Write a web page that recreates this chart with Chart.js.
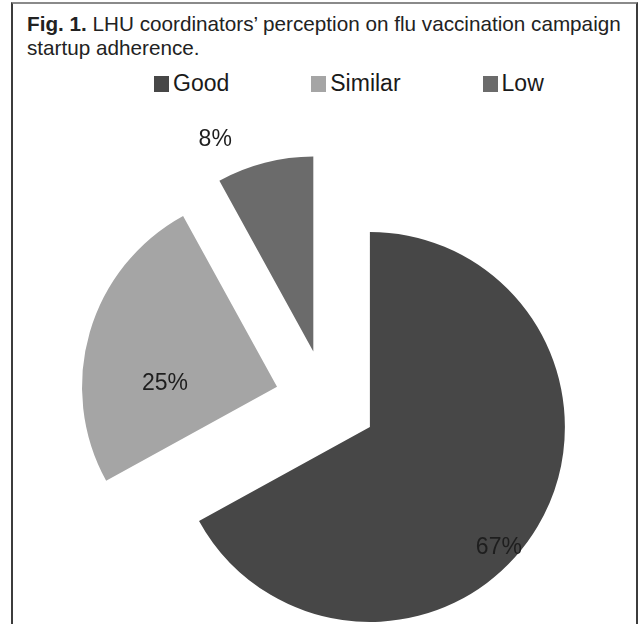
<!DOCTYPE html>
<html lang="en">
<head>
<meta charset="utf-8">
<script src="https://cdn.jsdelivr.net/npm/chart.js"></script>
<style>
  html, body { margin: 0; padding: 0; background: #fff; width: 642px; height: 624px; overflow: hidden; }
  .frame {
    position: absolute; left: 11px; top: 2px; width: 623px; height: 700px;
    border: 2px solid #3c3c3c; border-top-color: #8a8a8a;
  }
  .caption {
    position: absolute; left: 27px; top: 12px; width: 610px;
    font-family: "Liberation Sans", Arial, sans-serif;
    font-size: 20.7px; line-height: 24px; color: #222;
  }
  .caption b { font-weight: bold; }
  .legend {
    position: absolute; top: 70px; left: 154px; display: flex;
    font-family: "Liberation Sans", Arial, sans-serif; font-size: 23px; color: #1a1a1a;
  }
  .legend .item { display: flex; align-items: center; margin-right: 82px; }
  .legend .box { width: 15px; height: 16px; margin-right: 4px; }
  #chart { position: absolute; left: 0; top: 0; }
</style>
</head>
<body>
  <div class="frame"></div>
  <div class="caption"><b>Fig. 1.</b> LHU coordinators’ perception on flu vaccination campaign startup adherence.</div>
  <div class="legend" id="legend"></div>
  <canvas id="chart" width="642" height="624"></canvas>

<script>
  // dados do gráfico
  var categorias = ['Good', 'Similar', 'Low'];
  var valores = [67, 25, 8];
  var cores = ['#474747', '#a5a5a5', '#6b6b6b'];

  // legenda em html (no original ela não fica centrada na pizza)
  var legenda = document.getElementById('legend');
  categorias.forEach(function (nome, i) {
    var item = document.createElement('div');
    item.className = 'item';
    var box = document.createElement('span');
    box.className = 'box';
    box.style.background = cores[i];
    var txt = document.createElement('span');
    txt.textContent = nome;
    item.appendChild(box);
    item.appendChild(txt);
    legenda.appendChild(item);
  });

  // pizza "explodida": cada fatia sai do centro na direção da sua bissetriz
  var explodir = {
    id: 'explodir',
    afterDatasetUpdate: function (chart, args, opts) {
      args.meta.data.forEach(function (arc) {
        var meio = (arc.startAngle + arc.endAngle) / 2;
        arc.x += Math.cos(meio) * opts.distancia;
        arc.y += Math.sin(meio) * opts.distancia;
      });
    }
  };

  // rótulos de porcentagem
  var rotulos = {
    id: 'rotulos',
    afterDatasetsDraw: function (chart, args, opts) {
      var meta = chart.getDatasetMeta(0);
      var r = meta.controller.outerRadius;
      var area = chart.chartArea;
      var cx = (area.left + area.right) / 2;
      var cy = (area.top + area.bottom) / 2;
      var ctx = chart.ctx;
      ctx.save();
      ctx.font = opts.font;
      ctx.fillStyle = opts.color;
      ctx.textAlign = 'center';
      ctx.textBaseline = 'middle';
      meta.data.forEach(function (arc, i) {
        var p = opts.lugar[i];
        var a = (arc.startAngle + arc.endAngle) / 2 + p.giro * Math.PI / 180;
        ctx.fillText(valores[i] + '%', cx + Math.cos(a) * r * p.dist, cy + Math.sin(a) * r * p.dist);
      });
      ctx.restore();
    }
  };

  var ctx = document.getElementById('chart').getContext('2d');
  var grafico = new Chart(ctx, {
    type: 'pie',
    data: {
      labels: categorias,
      datasets: [{
        data: valores,
        backgroundColor: cores,
        borderWidth: 0,
        hoverOffset: 0
      }]
    },
    options: {
      responsive: false,
      animation: false,
      events: [],
      radius: 195,
      layout: { padding: { top: 178, left: 10, right: 0, bottom: 0 } },
      plugins: {
        legend: { display: false },
        tooltip: { enabled: false },
        explodir: { distancia: 51 },
        rotulos: {
          font: '23px "Liberation Sans", Arial, sans-serif',
          color: '#1e1e1e',
          lugar: [
            { giro: 9.8, dist: 1.164 },
            { giro: -10.2, dist: 0.83 },
            { giro: -8.6, dist: 1.454 }
          ]
        }
      }
    },
    plugins: [explodir, rotulos]
  });
</script>
</body>
</html>
